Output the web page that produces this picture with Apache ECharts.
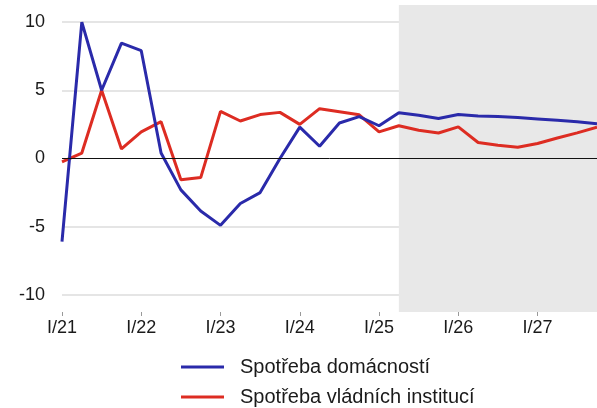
<!DOCTYPE html>
<html>
<head>
<meta charset="utf-8">
<script src="https://cdn.jsdelivr.net/npm/echarts@6/dist/echarts.min.js"></script>
<style>
  html, body { margin: 0; padding: 0; background: #fff; }
  #chart { width: 597px; height: 408px; }
</style>
</head>
<body>
<div id="chart"></div>
<script>
const quarters = [];
for (let y = 21; y <= 27; y++) {
    for (const q of ['I', 'II', 'III', 'IV']) quarters.push(q + '/' + y);
}
const households = [-6.1, 10.0, 5.0, 8.45, 7.9, 0.4, -2.3, -3.85, -4.9, -3.3, -2.5, 0.0,
    2.3, 0.9, 2.6, 3.07, 2.4, 3.36, 3.17, 2.93, 3.22, 3.12, 3.07, 3.0,
    2.9, 2.8, 2.7, 2.55];
const government = [-0.25, 0.4, 5.0, 0.7, 1.95, 2.7, -1.55, -1.4, 3.45, 2.75, 3.22, 3.38,
    2.5, 3.65, 3.43, 3.2, 1.95, 2.4, 2.07, 1.87, 2.32, 1.17, 0.97, 0.83,
    1.1, 1.5, 1.88, 2.3];
const yLabels = [-10, -5, 0, 5, 10];
const yGrid = [-10, -5, 5, 10];
const forecastFrom = 'II/25';
const forecastTo = 'IV/27';

let chartDom = document.getElementById('chart');
let myChart = echarts.init(chartDom);
const font = 'Liberation Sans, Arial, sans-serif';

let option = {
    animation: false,
    textStyle: { fontFamily: font },
    grid: { left: 62, top: 5, width: 537, height: 307 },
    legend: {
        orient: 'vertical',
        left: 181,
        top: 357,
        padding: 0,
        icon: 'rect',
        itemWidth: 43,
        itemHeight: 3,
        itemGap: 10,
        data: ['Spotřeba domácností', 'Spotřeba vládních institucí'],
        textStyle: { fontSize: 20, lineHeight: 20, color: '#1a1a1a', fontFamily: font, padding: [0, 0, 0, 11] }
    },
    xAxis: {
        type: 'category',
        data: quarters,
        boundaryGap: false,
        axisLine: { show: false, onZero: false },
        axisTick: { show: true, interval: 3, length: 4, lineStyle: { color: '#999' } },
        axisLabel: { interval: 3, margin: 7, fontSize: 18, color: '#1a1a1a', fontFamily: font },
        splitLine: { show: false }
    },
    yAxis: {
        type: 'value',
        min: -11.25,
        max: 11.25,
        axisLine: { show: false },
        axisTick: { show: false, customValues: yGrid },
        axisLabel: { customValues: yLabels, margin: 17, fontSize: 18, color: '#1a1a1a', fontFamily: font },
        splitLine: { show: true, lineStyle: { color: '#dcdcdc', width: 1.5 } }
    },
    series: [
        {
            name: 'forecast',
            type: 'line',
            data: [],
            z: -1,
            silent: true,
            markArea: {
                silent: true,
                itemStyle: { color: '#e8e8e8' },
                data: [[{ xAxis: forecastFrom }, { xAxis: forecastTo }]]
            }
        },
        {
            name: 'zero',
            type: 'line',
            data: [],
            z: 1,
            silent: true,
            markLine: {
                silent: true,
                symbol: 'none',
                label: { show: false },
                lineStyle: { color: '#111', width: 1, type: 'solid' },
                data: [{ yAxis: 0 }]
            }
        },
        {
            name: 'Spotřeba domácností',
            type: 'line',
            data: households,
            symbol: 'none',
            color: '#2a2aaa',
            lineStyle: { width: 3, color: '#2a2aaa' },
            z: 3
        },
        {
            name: 'Spotřeba vládních institucí',
            type: 'line',
            data: government,
            symbol: 'none',
            color: '#dd2c22',
            lineStyle: { width: 3, color: '#dd2c22' },
            z: 2
        }
    ]
};
option && myChart.setOption(option);
</script>
</body>
</html>
